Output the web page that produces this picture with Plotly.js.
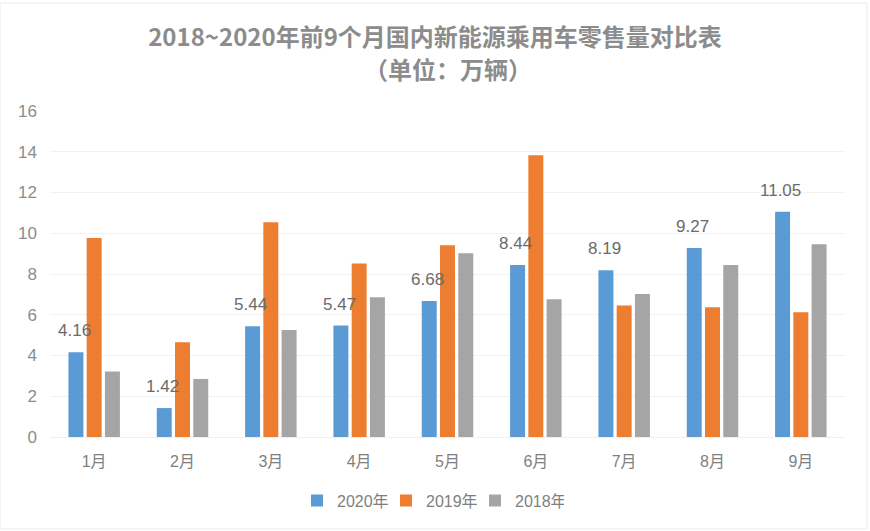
<!DOCTYPE html>
<html>
<head>
<meta charset="utf-8">
<script src="https://cdn.plot.ly/plotly-3.0.1.min.js"></script>
<style>
  html, body { margin: 0; padding: 0; background: #fff; }
  #chart { width: 870px; height: 531px; }
</style>
</head>
<body>
<div id="chart"></div>
<script>
const months = ["1月", "2月", "3月", "4月", "5月", "6月", "7月", "8月", "9月"];
const sales2020 = [4.16, 1.42, 5.44, 5.47, 6.68, 8.44, 8.19, 9.27, 11.05];
const sales2019 = [9.77, 4.65, 10.54, 8.52, 9.41, 13.83, 6.46, 6.37, 6.12];
const sales2018 = [3.22, 2.85, 5.25, 6.86, 9.02, 6.76, 7.02, 8.44, 9.46];
const seriesNames = ["2020年", "2019年", "2018年"];
const titleLine1 = "2018~2020年前9个月国内新能源乘用车零售量对比表";
const titleLine2 = "（单位：万辆）";

const font = '"Liberation Sans", "Noto Sans CJK SC", Arial, sans-serif';
const titleFont = { family: '"Noto Sans CJK SC", sans-serif', size: 24, color: "#8c8c8c" };

const traces = [
  {
    type: "bar", name: seriesNames[0], x: months, y: sales2020,
    marker: { color: "#5b9bd5" }, hoverinfo: "none"
  },
  {
    type: "bar", name: seriesNames[1], x: months, y: sales2019,
    marker: { color: "#ed7d31" }, hoverinfo: "none"
  },
  {
    type: "bar", name: seriesNames[2], x: months, y: sales2018,
    marker: { color: "#a5a5a5" }, hoverinfo: "none"
  }
];

const labels = months.map((m, i) => ({
  x: m, y: sales2020[i], xref: "x", yref: "y",
  text: sales2020[i].toFixed(2),
  showarrow: false, xanchor: "center", yanchor: "bottom",
  xshift: -20, yshift: 10,
  font: { family: font, size: 17, color: "#6b6b6b" }
}));

labels.push({
  xref: "paper", yref: "paper", x: 0.5, y: 1 + (111 - 68) / 326,
  xanchor: "center", yanchor: "middle", showarrow: false,
  text: "<b>" + titleLine2 + "</b>", font: titleFont
});

const layout = {
  width: 870, height: 531,
  margin: { l: 50, r: 25, t: 111, b: 94 },
  paper_bgcolor: "#ffffff",
  plot_bgcolor: "#ffffff",
  barmode: "group",
  bargap: 0.38,
  bargroupgap: 0.18,
  title: {
    text: "<b>" + titleLine1 + "</b>",
    font: titleFont,
    x: 0.5, xanchor: "center",
    y: 1 - 38 / 531, yanchor: "middle"
  },
  xaxis: {
    type: "category",
    tickfont: { family: font, size: 16, color: "#7f7f7f" },
    showline: true, linecolor: "#f0f0f0", linewidth: 1,
    ticks: "", showgrid: false,
    ticklabelstandoff: 10
  },
  yaxis: {
    range: [0, 16], dtick: 2,
    tickfont: { family: font, size: 17, color: "#8c8c8c" },
    gridcolor: "#f2f2f2", gridwidth: 1,
    zeroline: false, showline: false, ticks: "",
    ticklabelstandoff: 12
  },
  legend: {
    orientation: "h",
    x: 0.5 - 17 / 795, xanchor: "center",
    y: -0.195, yanchor: "middle",
    font: { family: font, size: 16, color: "#7f7f7f" },
    itemwidth: 30,
    entrywidth: 44,
    traceorder: "normal"
  },
  annotations: labels,
  shapes: [{
    type: "rect", xref: "paper", yref: "paper",
    x0: -50/795, x1: 1 + 22/795, y0: -92/326, y1: 1 + 108/326,
    line: { color: "#ececec", width: 1 }, fillcolor: "rgba(0,0,0,0)", layer: "below"
  }]
};

Plotly.newPlot("chart", traces, layout, { displayModeBar: false, staticPlot: true });
</script>
</body>
</html>
